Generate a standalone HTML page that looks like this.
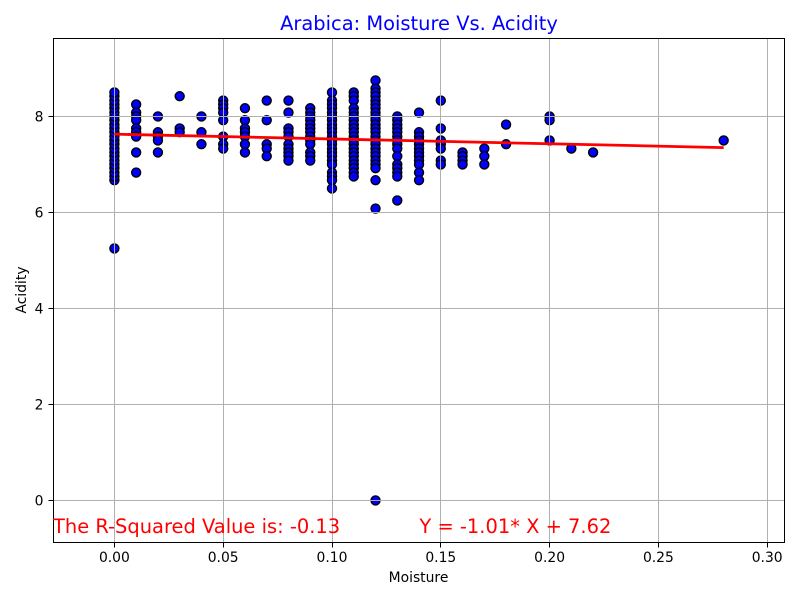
<!DOCTYPE html>
<html lang="en">
<head>
<meta charset="utf-8">
<title>Arabica: Moisture Vs. Acidity</title>
<style>
html,body{margin:0;padding:0;background:#fff;width:800px;height:600px;overflow:hidden}
svg{display:block;font-family:"DejaVu Sans","Liberation Sans",sans-serif}
</style>
</head>
<body>
<svg id="chart" width="800" height="600" viewBox="0 0 800 600" xmlns="http://www.w3.org/2000/svg">
  <rect x="0" y="0" width="800" height="600" fill="#fff"/>
  <g id="points"></g>
  <g id="grid"></g>
  <g id="trend"></g>
  <g id="ticks"></g>
  <rect x="53.5" y="38.5" width="731" height="504" fill="none" stroke="#000" stroke-width="1"/>
  <text x="419" y="30" font-size="19.44" fill="#0000ff" text-anchor="middle">Arabica: Moisture Vs. Acidity</text>
  <text x="418.5" y="582" font-size="13.89" fill="#000" text-anchor="middle">Moisture</text>
  <text x="0" y="0" transform="translate(26,290) rotate(-90)" font-size="13.89" fill="#000" text-anchor="middle">Acidity</text>
  <text x="53" y="533" font-size="19.44" fill="#ff0000">The R-Squared Value is: -0.13</text>
  <text x="419.4" y="533" font-size="19.44" fill="#ff0000">Y = -1.01* X + 7.62</text>
</svg>
<script>
const moistureLevels = [0, 0.01, 0.02, 0.03, 0.04, 0.05, 0.06, 0.07, 0.08, 0.09, 0.10, 0.11, 0.12, 0.13, 0.14, 0.15, 0.16, 0.17, 0.18, 0.20, 0.21, 0.22, 0.28];
const acidityByMoisture = [
  [5.25, 6.67, 6.75, 6.83, 6.92, 7.0, 7.08, 7.17, 7.25, 7.33, 7.42, 7.5, 7.58, 7.67, 7.75, 7.83, 7.92, 8.0, 8.08, 8.17, 8.25, 8.33, 8.42, 8.5],
  [8.25, 8.08, 8.0, 7.92, 7.75, 7.67, 7.58, 7.25, 6.83],
  [8.0, 7.67, 7.58, 7.5, 7.25],
  [8.42, 7.75, 7.67],
  [8.0, 7.67, 7.42],
  [8.33, 8.25, 8.17, 8.08, 7.92, 7.58, 7.42, 7.33],
  [8.17, 7.92, 7.75, 7.67, 7.58, 7.42, 7.25],
  [8.33, 7.92, 7.42, 7.33, 7.17],
  [8.33, 8.08, 7.75, 7.67, 7.58, 7.42, 7.33, 7.25, 7.17, 7.08],
  [8.17, 8.08, 8.0, 7.92, 7.83, 7.75, 7.67, 7.58, 7.5, 7.42, 7.25, 7.17, 7.08],
  [8.5, 8.33, 8.25, 8.17, 8.08, 8.0, 7.92, 7.83, 7.75, 7.67, 7.58, 7.5, 7.42, 7.33, 7.25, 7.17, 7.08, 7.0, 6.83, 6.75, 6.67, 6.5],
  [8.5, 8.42, 8.33, 8.17, 8.08, 8.0, 7.92, 7.83, 7.75, 7.67, 7.58, 7.5, 7.42, 7.33, 7.25, 7.17, 7.08, 7.0, 6.92, 6.83, 6.75],
  [8.75, 8.58, 8.5, 8.42, 8.33, 8.25, 8.17, 8.08, 8.0, 7.92, 7.83, 7.75, 7.67, 7.58, 7.5, 7.42, 7.33, 7.25, 7.17, 7.08, 7.0, 6.92, 6.67, 6.08, 0],
  [8.0, 7.92, 7.83, 7.75, 7.67, 7.58, 7.5, 7.42, 7.33, 7.17, 7.0, 6.92, 6.83, 6.75, 6.25],
  [8.08, 7.67, 7.58, 7.5, 7.42, 7.33, 7.25, 7.17, 7.08, 7.0, 6.83, 6.67],
  [8.33, 7.75, 7.5, 7.42, 7.33, 7.08, 7.0],
  [7.25, 7.17, 7.08, 7.0],
  [7.33, 7.17, 7.0],
  [7.83, 7.42],
  [8.0, 7.92, 7.5],
  [7.33],
  [7.25],
  [7.5]
];
const trendMoisture = [0, 0.28];
const trendAcidity = [7.63, 7.35];
const xTickValues = [0, 0.05, 0.10, 0.15, 0.20, 0.25, 0.30];
const xTickLabels = ["0.00", "0.05", "0.10", "0.15", "0.20", "0.25", "0.30"];
const yTickValues = [0, 2, 4, 6, 8];
const yTickLabels = ["0", "2", "4", "6", "8"];

const SVG_NS = "http://www.w3.org/2000/svg";
const plotLeft = 53.5, plotRight = 784.5, plotTop = 38.5, plotBottom = 542.5;
function xScale(v) { return 114.4 + v * 2176; }
function yScale(v) { return 500.4 - v * 48; }
function snap(p) { return Math.floor(p) + 0.5; }
function make(tag, attrs, parent) {
  const el = document.createElementNS(SVG_NS, tag);
  for (const k in attrs) el.setAttribute(k, attrs[k]);
  parent.appendChild(el);
  return el;
}
const pointsG = document.getElementById("points");
const gridG = document.getElementById("grid");
const trendG = document.getElementById("trend");
const ticksG = document.getElementById("ticks");

moistureLevels.forEach(function (m, i) {
  acidityByMoisture[i].forEach(function (a) {
    const c = make("circle", { cx: xScale(m), cy: yScale(a), r: 4.5, fill: "#0000ff", stroke: "#000", "stroke-width": 1.39 }, pointsG);
    
    
  });
});

xTickValues.forEach(function (v, i) {
  const x = snap(xScale(v));
  const g = make("line", { x1: x, x2: x, y1: plotTop, y2: plotBottom, stroke: "#b0b0b0", "stroke-width": 1 }, gridG);
  
  
  const t = make("line", { x1: x, x2: x, y1: plotBottom, y2: plotBottom + 5, stroke: "#000", "stroke-width": 1 }, ticksG);
  
  
  const l = make("text", { x: xScale(v), y: 562, "font-size": 13.89, fill: "#000", "text-anchor": "middle" }, ticksG);
  
  
  l.textContent = xTickLabels[i];
});

yTickValues.forEach(function (v, i) {
  const y = snap(yScale(v));
  const g = make("line", { x1: plotLeft, x2: plotRight, y1: y, y2: y, stroke: "#b0b0b0", "stroke-width": 1 }, gridG);
  
  
  const t = make("line", { x1: plotLeft - 5, x2: plotLeft, y1: y, y2: y, stroke: "#000", "stroke-width": 1 }, ticksG);
  
  
  const l = make("text", { x: 43.5, y: y + 5, "font-size": 13.89, fill: "#000", "text-anchor": "end" }, ticksG);
  
  
  l.textContent = yTickLabels[i];
});

const trendLine = make("line", {
  x1: xScale(trendMoisture[0]), y1: yScale(trendAcidity[0]),
  x2: xScale(trendMoisture[1]), y2: yScale(trendAcidity[1]),
  stroke: "#ff0000", "stroke-width": 2.78
}, trendG);


</script>
</body>
</html>
